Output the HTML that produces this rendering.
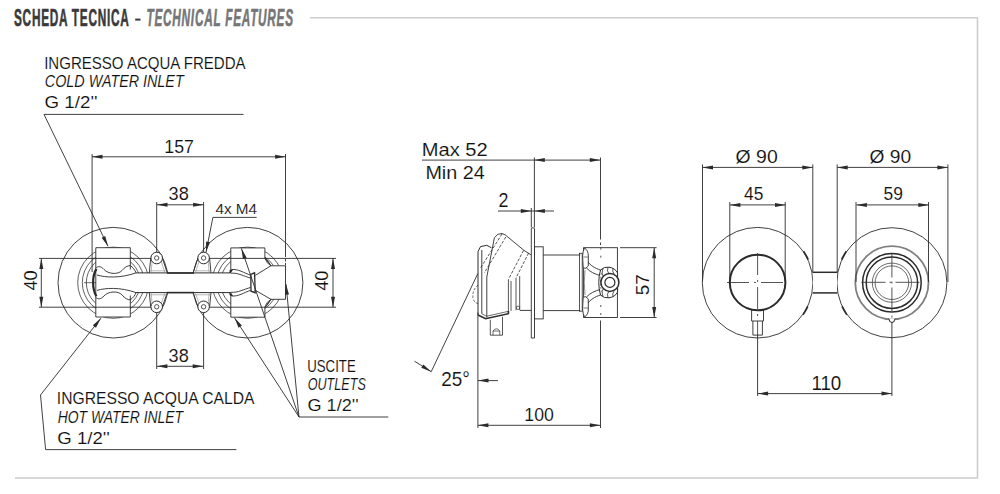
<!DOCTYPE html>
<html><head><meta charset="utf-8"><style>
html,body{margin:0;padding:0;background:#fff;}
svg{display:block;font-family:"Liberation Sans",sans-serif;}
</style></head><body>
<svg width="1000" height="494" viewBox="0 0 1000 494">
<rect width="1000" height="494" fill="#fff"/>
<path d="M310,17.8 H977.5 V478 H15" fill="none" stroke="#cdcdcd" stroke-width="1.6"/>
<circle cx="113.3" cy="282.7" r="55.3" fill="none" stroke="#2b2b2b" stroke-width="0.9" />
<circle cx="247.6" cy="282.7" r="55.3" fill="none" stroke="#2b2b2b" stroke-width="0.9" />
<circle cx="113.3" cy="282.7" r="35.6" fill="none" stroke="#2b2b2b" stroke-width="0.75" />
<circle cx="247.6" cy="282.7" r="35.6" fill="none" stroke="#2b2b2b" stroke-width="0.75" />
<circle cx="113.3" cy="282.7" r="31.0" fill="none" stroke="#2b2b2b" stroke-width="0.75" />
<circle cx="247.6" cy="282.7" r="31.0" fill="none" stroke="#2b2b2b" stroke-width="0.75" />
<circle cx="113.3" cy="282.7" r="27.0" fill="none" stroke="#2b2b2b" stroke-width="0.75" />
<circle cx="247.6" cy="282.7" r="27.0" fill="none" stroke="#2b2b2b" stroke-width="0.75" />
<path d="M130.3,269.5 V247.7 H95.8 V317.0 H130.3 V295.5" fill="#fff" stroke="#2b2b2b" stroke-width="0.9" />
<path d="M230.8,271 V247.9 H264.9 V258.2 Q268,260 270.9,265.8 H285.5 V299.3 H270.9 Q268,305 264.9,307.2 V317.2 H230.8 V294.5" fill="#fff" stroke="#2b2b2b" stroke-width="0.9" />
<line x1="39" y1="258.4" x2="151" y2="258.4" stroke="#2b2b2b" stroke-width="0.9" />
<line x1="209" y1="258.4" x2="336" y2="258.4" stroke="#2b2b2b" stroke-width="0.9" />
<line x1="39" y1="307.2" x2="151" y2="307.2" stroke="#2b2b2b" stroke-width="0.9" />
<line x1="209" y1="307.2" x2="336" y2="307.2" stroke="#2b2b2b" stroke-width="0.9" />
<rect x="130.6" y="273.0" width="100.0" height="19.600000000000023" fill="#fff" stroke="#2b2b2b" stroke-width="0" />
<line x1="136" y1="272.9" x2="230.8" y2="272.9" stroke="#2b2b2b" stroke-width="1.0" />
<line x1="136" y1="292.6" x2="230.8" y2="292.6" stroke="#2b2b2b" stroke-width="1.0" />
<line x1="167" y1="273.0" x2="194" y2="273.0" stroke="#2b2b2b" stroke-width="1.6" />
<line x1="167" y1="292.6" x2="194" y2="292.6" stroke="#2b2b2b" stroke-width="1.6" />
<path d="M95.8,268 C98,266 101,266 104,269.5 C108,274 118,275 122,270.5 C125,267 127.5,265.5 130.3,265.6 C133,267.5 135,270 136,272.9" fill="none" stroke="#2b2b2b" stroke-width="0.9" />
<path d="M95.8,297.4 C98,299.4 101,299.4 104,295.9 C108,291.4 118,290.4 122,294.9 C125,298.4 127.5,299.9 130.3,299.8 C133,297.9 135,295.4 136,292.6" fill="none" stroke="#2b2b2b" stroke-width="0.9" />
<path d="M97,275 C105,277.5 120,278.5 136,272.9" fill="none" stroke="#2b2b2b" stroke-width="0.9" />
<path d="M97,290.4 C105,287.9 120,286.9 136,292.6" fill="none" stroke="#2b2b2b" stroke-width="0.9" />
<path d="M96.4,268.9 C92,276 92,289 96.4,296.3" fill="none" stroke="#2b2b2b" stroke-width="2.2" />
<line x1="84" y1="282.7" x2="96" y2="282.7" stroke="#2b2b2b" stroke-width="0.7" />
<path d="M229.5,272.9 L231.5,269.6 C238,268.6 244,273 250.6,275.2" fill="none" stroke="#2b2b2b" stroke-width="0.9" />
<path d="M231,273.2 C238,272.6 244,276.4 250.6,278" fill="none" stroke="#2b2b2b" stroke-width="0.9" />
<path d="M229.5,292.6 L231.5,295.9 C238,296.9 244,292.5 250.6,290.3" fill="none" stroke="#2b2b2b" stroke-width="0.9" />
<path d="M231,292.3 C238,292.9 244,289.1 250.6,287.5" fill="none" stroke="#2b2b2b" stroke-width="0.9" />
<path d="M230.5,272.9 L232.5,269.8 L229.8,270.5 Z M230.5,292.6 L232.5,295.7 L229.8,295 Z" fill="#2b2b2b" stroke="#2b2b2b" stroke-width="0.8" />
<path d="M250.8,274.3 L254.6,272.8 L255.2,292.7 L251,291.2 Z" fill="none" stroke="#2b2b2b" stroke-width="1.3" />
<polyline points="264.9,258.2 270.9,265.8 255.4,275.3" fill="none" stroke="#2b2b2b" stroke-width="0.9" />
<polyline points="264.9,307.2 270.9,299.3 255.4,290.3" fill="none" stroke="#2b2b2b" stroke-width="0.9" />
<path d="M264.9,258.2 Q266,263 270.9,265.8 M264.9,307.2 Q266,302 270.9,299.3" fill="none" stroke="#2b2b2b" stroke-width="0.7" />
<path d="M150.7,258.0 L149.29999999999998,273.0 M162.29999999999998,258.0 L167.29999999999998,273.0" fill="none" stroke="#2b2b2b" stroke-width="0.9" />
<path d="M152.1,261.0 L151.1,273.0 M161.1,261.0 L165.1,273.0" fill="none" stroke="#888" stroke-width="0.6" />
<line x1="149.5" y1="270.8" x2="166.89999999999998" y2="270.8" stroke="#888" stroke-width="0.6" />
<circle cx="156.7" cy="258.0" r="5.8" fill="#fff" stroke="#2b2b2b" stroke-width="1.0" />
<circle cx="156.7" cy="258.0" r="2.2" fill="none" stroke="#2b2b2b" stroke-width="0.8" />
<path d="M150.7,306.8 L149.29999999999998,292.6 M162.29999999999998,306.8 L167.29999999999998,292.6" fill="none" stroke="#2b2b2b" stroke-width="0.9" />
<path d="M152.1,303.8 L151.1,292.6 M161.1,303.8 L165.1,292.6" fill="none" stroke="#888" stroke-width="0.6" />
<line x1="149.5" y1="294.8" x2="166.89999999999998" y2="294.8" stroke="#888" stroke-width="0.6" />
<circle cx="156.7" cy="306.8" r="5.8" fill="#fff" stroke="#2b2b2b" stroke-width="1.0" />
<circle cx="156.7" cy="306.8" r="2.2" fill="none" stroke="#2b2b2b" stroke-width="0.8" />
<path d="M209.6,258.0 L211.0,273.0 M198.0,258.0 L193.0,273.0" fill="none" stroke="#2b2b2b" stroke-width="0.9" />
<path d="M208.2,261.0 L209.2,273.0 M199.2,261.0 L195.2,273.0" fill="none" stroke="#888" stroke-width="0.6" />
<line x1="210.79999999999998" y1="270.8" x2="193.4" y2="270.8" stroke="#888" stroke-width="0.6" />
<circle cx="203.6" cy="258.0" r="5.8" fill="#fff" stroke="#2b2b2b" stroke-width="1.0" />
<circle cx="203.6" cy="258.0" r="2.2" fill="none" stroke="#2b2b2b" stroke-width="0.8" />
<path d="M209.6,306.8 L211.0,292.6 M198.0,306.8 L193.0,292.6" fill="none" stroke="#2b2b2b" stroke-width="0.9" />
<path d="M208.2,303.8 L209.2,292.6 M199.2,303.8 L195.2,292.6" fill="none" stroke="#888" stroke-width="0.6" />
<line x1="210.79999999999998" y1="294.8" x2="193.4" y2="294.8" stroke="#888" stroke-width="0.6" />
<circle cx="203.6" cy="306.8" r="5.8" fill="#fff" stroke="#2b2b2b" stroke-width="1.0" />
<circle cx="203.6" cy="306.8" r="2.2" fill="none" stroke="#2b2b2b" stroke-width="0.8" />
<line x1="92" y1="156.8" x2="285.6" y2="156.8" stroke="#2b2b2b" stroke-width="0.9" />
<polygon points="92.00,156.80 102.50,154.80 102.50,158.80" fill="#2b2b2b"/>
<polygon points="285.60,156.80 275.10,158.80 275.10,154.80" fill="#2b2b2b"/>
<line x1="92.1" y1="154" x2="92.1" y2="272" stroke="#2b2b2b" stroke-width="0.9" />
<line x1="285.5" y1="154" x2="285.5" y2="257" stroke="#2b2b2b" stroke-width="0.9" />
<line x1="285.5" y1="259" x2="285.5" y2="265.8" stroke="#2b2b2b" stroke-width="0.9" stroke-dasharray="2.5,1.5"/>
<line x1="157" y1="204.8" x2="203.6" y2="204.8" stroke="#2b2b2b" stroke-width="0.9" />
<polygon points="157.00,204.80 167.50,202.80 167.50,206.80" fill="#2b2b2b"/>
<polygon points="203.60,204.80 193.10,206.80 193.10,202.80" fill="#2b2b2b"/>
<line x1="156.7" y1="202" x2="156.7" y2="252.2" stroke="#2b2b2b" stroke-width="0.9" />
<line x1="203.6" y1="202" x2="203.6" y2="252.2" stroke="#2b2b2b" stroke-width="0.9" />
<line x1="156.9" y1="366.3" x2="203.2" y2="366.3" stroke="#2b2b2b" stroke-width="0.9" />
<polygon points="156.90,366.30 167.40,364.30 167.40,368.30" fill="#2b2b2b"/>
<polygon points="203.20,366.30 192.70,368.30 192.70,364.30" fill="#2b2b2b"/>
<line x1="156.7" y1="312.6" x2="156.7" y2="369" stroke="#2b2b2b" stroke-width="0.9" />
<line x1="203.6" y1="312.6" x2="203.6" y2="369" stroke="#2b2b2b" stroke-width="0.9" />
<line x1="41.3" y1="258.4" x2="41.3" y2="307.2" stroke="#2b2b2b" stroke-width="0.9" />
<polygon points="41.30,258.40 43.30,268.90 39.30,268.90" fill="#2b2b2b"/>
<polygon points="41.30,307.20 39.30,296.70 43.30,296.70" fill="#2b2b2b"/>
<line x1="333" y1="258.4" x2="333" y2="307.2" stroke="#2b2b2b" stroke-width="0.9" />
<polygon points="333.00,258.40 335.00,268.90 331.00,268.90" fill="#2b2b2b"/>
<polygon points="333.00,307.20 331.00,296.70 335.00,296.70" fill="#2b2b2b"/>
<polyline points="256.6,217.4 212.9,217.4 206,252.2" fill="none" stroke="#2b2b2b" stroke-width="0.9" />
<polygon points="206.00,252.20 206.08,241.51 210.00,242.29" fill="#2b2b2b"/>
<polyline points="243.5,114.4 44,114.4 108,246.3" fill="none" stroke="#2b2b2b" stroke-width="0.9" />
<polygon points="108.00,246.30 101.62,237.73 105.22,235.98" fill="#2b2b2b"/>
<polyline points="236.4,449.6 45.6,449.6 40.5,395 100.9,318.2" fill="none" stroke="#2b2b2b" stroke-width="0.9" />
<polygon points="100.90,318.20 95.98,327.69 92.84,325.22" fill="#2b2b2b"/>
<line x1="299" y1="417" x2="388.3" y2="417" stroke="#2b2b2b" stroke-width="0.9" />
<line x1="299" y1="417" x2="234.5" y2="317.8" stroke="#2b2b2b" stroke-width="0.9" />
<polygon points="234.50,317.80 241.90,325.51 238.55,327.69" fill="#2b2b2b"/>
<line x1="299" y1="417" x2="241.4" y2="248.4" stroke="#2b2b2b" stroke-width="0.9" />
<polygon points="241.40,248.40 246.69,257.69 242.90,258.98" fill="#2b2b2b"/>
<line x1="299" y1="417" x2="286" y2="284.2" stroke="#2b2b2b" stroke-width="0.9" />
<polygon points="286.00,284.20 289.01,294.46 285.03,294.84" fill="#2b2b2b"/>
<line x1="422" y1="160.1" x2="600.3" y2="160.1" stroke="#2b2b2b" stroke-width="0.9" />
<polygon points="534.30,160.10 544.80,158.10 544.80,162.10" fill="#2b2b2b"/>
<polygon points="600.30,160.10 589.80,162.10 589.80,158.10" fill="#2b2b2b"/>
<line x1="534.4" y1="157.5" x2="534.4" y2="227.5" stroke="#2b2b2b" stroke-width="0.9" />
<line x1="600.5" y1="157.5" x2="600.5" y2="239.5" stroke="#2b2b2b" stroke-width="0.9" />
<line x1="600.5" y1="242.5" x2="600.5" y2="245" stroke="#2b2b2b" stroke-width="0.9" />
<line x1="498" y1="211" x2="554" y2="211" stroke="#2b2b2b" stroke-width="0.9" />
<polygon points="531.30,211.00 520.80,213.00 520.80,209.00" fill="#2b2b2b"/>
<polygon points="534.40,211.00 544.90,209.00 544.90,213.00" fill="#2b2b2b"/>
<line x1="531.3" y1="208" x2="531.3" y2="227.5" stroke="#2b2b2b" stroke-width="0.9" />
<path d="M531.3,338 V228.5 Q532.9,226.8 534.5,228.5 V338 Z" fill="#fff" stroke="#2b2b2b" stroke-width="0.9" />
<rect x="534.5" y="246.8" width="8.700000000000045" height="72.09999999999997" fill="#fff" stroke="#2b2b2b" stroke-width="0.9" />
<line x1="543.2" y1="255.0" x2="580.2" y2="255.0" stroke="#2b2b2b" stroke-width="0.9" />
<line x1="543.2" y1="310.6" x2="580.2" y2="310.6" stroke="#2b2b2b" stroke-width="0.9" />
<line x1="520" y1="310.4" x2="531.3" y2="310.4" stroke="#2b2b2b" stroke-width="0.9" />
<rect x="583.6" y="247.7" width="33.799999999999955" height="69.80000000000001" fill="#fff" stroke="#2b2b2b" stroke-width="0.9" />
<rect x="579.6" y="253.3" width="2.6000000000000227" height="57.89999999999998" fill="none" stroke="#2b2b2b" stroke-width="0.8" />
<path d="M584.5,248 Q588.5,250.5 588.3,256 L588.3,266 Q586,269.5 583.2,268 L582.6,256 Q582.8,251 584.5,248 Z" fill="#fff" stroke="#2b2b2b" stroke-width="0.9" />
<path d="M584.5,317 Q588.5,314.5 588.3,309 L588.3,299 Q586,295.5 583.2,297 L582.6,309 Q582.8,314 584.5,317 Z" fill="#fff" stroke="#2b2b2b" stroke-width="0.9" />
<line x1="583.5" y1="257" x2="588" y2="257" stroke="#2b2b2b" stroke-width="0.6" />
<line x1="583.5" y1="308" x2="588" y2="308" stroke="#2b2b2b" stroke-width="0.6" />
<path d="M588,262 C592,267 597,269 602,270.5 M586.5,268 C590,272 595,274 600,275.5" fill="none" stroke="#2b2b2b" stroke-width="0.9" />
<path d="M588,303 C592,298 597,296 602,294.5 M586.5,297 C590,293 595,291 600,289.5" fill="none" stroke="#2b2b2b" stroke-width="0.9" />
<path d="M585,270 Q583.5,282.5 585,295" fill="none" stroke="#666" stroke-width="0.7" />
<path d="M600.5,270 Q604,266.5 609,267.2 Q615,268 617.6,273 L617.6,292 Q615,297 609,297.8 Q604,298.5 600.5,295 Q597,282.5 600.5,270 Z" fill="#fff" stroke="#2b2b2b" stroke-width="1.0" />
<path d="M603,268.5 Q601,274 604,277 M608,267.3 Q606.5,271 609,274 M613,268.5 Q612,271 614,274" fill="none" stroke="#2b2b2b" stroke-width="0.8" />
<path d="M603,296.5 Q601,291 604,288 M608,297.7 Q606.5,294 609,291 M613,296.5 Q612,294 614,291" fill="none" stroke="#2b2b2b" stroke-width="0.8" />
<path d="M601.5,273 Q599.5,282.5 601.5,292" fill="none" stroke="#555" stroke-width="0.7" stroke-dasharray="2,1.5"/>
<circle cx="609.9" cy="282.4" r="9.0" fill="#fff" stroke="#2b2b2b" stroke-width="1.5" />
<circle cx="609.9" cy="282.4" r="5.0" fill="none" stroke="#2b2b2b" stroke-width="1.2" />
<line x1="600.8" y1="247.7" x2="600.8" y2="262" stroke="#2b2b2b" stroke-width="0.8" stroke-dasharray="2,6"/>
<line x1="600.8" y1="305" x2="600.8" y2="317.5" stroke="#2b2b2b" stroke-width="0.8" stroke-dasharray="2,6"/>
<line x1="654.2" y1="247.8" x2="654.2" y2="317.4" stroke="#2b2b2b" stroke-width="0.9" />
<polygon points="654.20,247.80 656.20,258.30 652.20,258.30" fill="#2b2b2b"/>
<polygon points="654.20,317.40 652.20,306.90 656.20,306.90" fill="#2b2b2b"/>
<line x1="620" y1="247.7" x2="656.6" y2="247.7" stroke="#2b2b2b" stroke-width="0.9" />
<line x1="620" y1="317.5" x2="656.6" y2="317.5" stroke="#2b2b2b" stroke-width="0.9" />
<path d="M478,315 V251.6 L480.5,246.6 L486.8,245.3 L491.5,247.8" fill="none" stroke="#2b2b2b" stroke-width="1.0" />
<line x1="481.8" y1="313.7" x2="481.8" y2="250" stroke="#2b2b2b" stroke-width="0.9" />
<path d="M486.8,317.5 V277 L494.4,237.7 Q497.5,233 502,233.5 L505.4,235 L523.5,250 L530.9,254.8" fill="none" stroke="#2b2b2b" stroke-width="0.9" />
<path d="M502,234 L480.5,268 M505.8,237 L484.3,273" fill="none" stroke="#2b2b2b" stroke-width="0.8" stroke-dasharray="3,1.6"/>
<path d="M508.4,279.5 V313.7 M511,281 V311 M516,278 V310.3 M519.7,276 V310.3" fill="none" stroke="#2b2b2b" stroke-width="0.8" />
<path d="M523.5,250.4 L508.4,279.5 M528.6,253 L516,278" fill="none" stroke="#2b2b2b" stroke-width="0.8" stroke-dasharray="3,1.6"/>
<path d="M478,315 L485.6,318.7 L508.4,313.7 V311" fill="none" stroke="#2b2b2b" stroke-width="1.6" />
<path d="M481.8,313.7 L486.5,316.3 L508.4,311.3" fill="none" stroke="#2b2b2b" stroke-width="0.7" />
<circle cx="518" cy="307.8" r="1.7" fill="none" stroke="#2b2b2b" stroke-width="0.7" />
<path d="M490.3,319.8 V335.2 H502.5 V316.8" fill="none" stroke="#2b2b2b" stroke-width="0.8" />
<path d="M493,335 V331 Q496.4,326.5 499.8,331 V335 M493,331 H499.8" fill="none" stroke="#2b2b2b" stroke-width="0.7" />
<path d="M478,285 Q472,290 473,298 Q474,303 478,303.4" fill="none" stroke="#2b2b2b" stroke-width="0.7" stroke-dasharray="2.5,1.5"/>
<line x1="477.8" y1="273.6" x2="431.2" y2="371.7" stroke="#2b2b2b" stroke-width="0.9" />
<line x1="414.5" y1="361.2" x2="431.2" y2="371.7" stroke="#2b2b2b" stroke-width="0.9" />
<polygon points="431.20,371.70 421.25,367.80 423.38,364.42" fill="#2b2b2b"/>
<line x1="477.9" y1="312.5" x2="477.9" y2="428" stroke="#2b2b2b" stroke-width="0.9" />
<line x1="478" y1="380.6" x2="498" y2="380.6" stroke="#2b2b2b" stroke-width="0.9" />
<polygon points="478.00,380.60 488.50,378.60 488.50,382.60" fill="#2b2b2b"/>
<line x1="477.9" y1="425.3" x2="600.4" y2="425.3" stroke="#2b2b2b" stroke-width="0.9" />
<polygon points="477.90,425.30 488.40,423.30 488.40,427.30" fill="#2b2b2b"/>
<polygon points="600.40,425.30 589.90,427.30 589.90,423.30" fill="#2b2b2b"/>
<line x1="600.5" y1="320.5" x2="600.5" y2="428" stroke="#2b2b2b" stroke-width="0.9" />
<circle cx="757.6" cy="282.7" r="55.3" fill="none" stroke="#2b2b2b" stroke-width="0.9" />
<circle cx="891.9" cy="282.7" r="55.0" fill="none" stroke="#2b2b2b" stroke-width="0.9" />
<path d="M803.51,251.23 A55.6,55.6 0 0 1 808.26,259.68" fill="none" stroke="#2b2b2b" stroke-width="1.6" />
<path d="M807.87,306.36 A55.6,55.6 0 0 1 802.98,314.73" fill="none" stroke="#2b2b2b" stroke-width="1.6" />
<path d="M841.59,259.65 A55.3,55.3 0 0 1 846.34,251.26" fill="none" stroke="#2b2b2b" stroke-width="1.6" />
<path d="M846.87,314.70 A55.3,55.3 0 0 1 841.98,306.39" fill="none" stroke="#2b2b2b" stroke-width="1.6" />
<rect x="812.9" y="272.3" width="24.100000000000023" height="20.599999999999966" fill="#fff" stroke="#2b2b2b" stroke-width="0" />
<line x1="812.6" y1="272.3" x2="837.3" y2="272.3" stroke="#2b2b2b" stroke-width="1.5" />
<line x1="812.6" y1="292.9" x2="837.3" y2="292.9" stroke="#2b2b2b" stroke-width="1.5" />
<circle cx="757.6" cy="282.5" r="27.8" fill="none" stroke="#2b2b2b" stroke-width="2.0" />
<path d="M751.6,309.6 V321 H763.5 V309.6" fill="none" stroke="#2b2b2b" stroke-width="0.9" />
<path d="M752.9,321 V335.1 H762.4 V321" fill="none" stroke="#2b2b2b" stroke-width="0.9" />
<line x1="727" y1="282.5" x2="788" y2="282.5" stroke="#2b2b2b" stroke-width="0.8" stroke-dasharray="22,5,2,5"/>
<line x1="757.6" y1="253" x2="757.6" y2="335" stroke="#2b2b2b" stroke-width="0.8" stroke-dasharray="22,5,2,5"/>
<line x1="861.5" y1="282.3" x2="922.2" y2="282.3" stroke="#2b2b2b" stroke-width="0.8" stroke-dasharray="24,4,2,4"/>
<line x1="891.9" y1="253.5" x2="891.9" y2="318" stroke="#2b2b2b" stroke-width="0.8" stroke-dasharray="24,4,2,4"/>
<circle cx="891.9" cy="282.7" r="36.6" fill="none" stroke="#808080" stroke-width="1.8" />
<circle cx="891.9" cy="282.7" r="29.3" fill="none" stroke="#2b2b2b" stroke-width="1.5" />
<circle cx="891.9" cy="282.7" r="25.7" fill="none" stroke="#2b2b2b" stroke-width="1.5" />
<circle cx="891.9" cy="282.7" r="19.6" fill="none" stroke="#444" stroke-width="0.8" />
<circle cx="891.9" cy="282.7" r="16.8" fill="none" stroke="#444" stroke-width="0.8" />
<path d="M888.6,318.6 Q889.6,319.5 889.6,321.5 Q891.9,323.6 894.2,321.5 Q894.2,319.5 895.2,318.6" fill="#fff" stroke="#2b2b2b" stroke-width="1.0" />
<line x1="702.5" y1="167.4" x2="812.8" y2="167.4" stroke="#2b2b2b" stroke-width="0.9" />
<polygon points="702.50,167.40 713.00,165.40 713.00,169.40" fill="#2b2b2b"/>
<polygon points="812.80,167.40 802.30,169.40 802.30,165.40" fill="#2b2b2b"/>
<line x1="837.2" y1="167.4" x2="947.9" y2="167.4" stroke="#2b2b2b" stroke-width="0.9" />
<polygon points="837.20,167.40 847.70,165.40 847.70,169.40" fill="#2b2b2b"/>
<polygon points="947.90,167.40 937.40,169.40 937.40,165.40" fill="#2b2b2b"/>
<line x1="702.5" y1="164.4" x2="702.5" y2="282" stroke="#2b2b2b" stroke-width="0.9" />
<line x1="812.8" y1="164.4" x2="812.8" y2="272.3" stroke="#2b2b2b" stroke-width="0.9" />
<line x1="837.2" y1="164.4" x2="837.2" y2="272.3" stroke="#2b2b2b" stroke-width="0.9" />
<line x1="947.9" y1="164.4" x2="947.9" y2="282" stroke="#2b2b2b" stroke-width="0.9" />
<line x1="729.9" y1="204.9" x2="785.5" y2="204.9" stroke="#2b2b2b" stroke-width="0.9" />
<polygon points="729.90,204.90 740.40,202.90 740.40,206.90" fill="#2b2b2b"/>
<polygon points="785.50,204.90 775.00,206.90 775.00,202.90" fill="#2b2b2b"/>
<line x1="856.4" y1="204.9" x2="928.8" y2="204.9" stroke="#2b2b2b" stroke-width="0.9" />
<polygon points="856.40,204.90 866.90,202.90 866.90,206.90" fill="#2b2b2b"/>
<polygon points="928.80,204.90 918.30,206.90 918.30,202.90" fill="#2b2b2b"/>
<line x1="729.8" y1="202" x2="729.8" y2="282" stroke="#2b2b2b" stroke-width="0.9" />
<line x1="785.2" y1="202" x2="785.2" y2="282" stroke="#2b2b2b" stroke-width="0.9" />
<line x1="856.0" y1="202" x2="856.0" y2="282" stroke="#2b2b2b" stroke-width="0.9" />
<line x1="928.5" y1="202" x2="928.5" y2="282" stroke="#2b2b2b" stroke-width="0.9" />
<line x1="757.6" y1="393.6" x2="892.0" y2="393.6" stroke="#2b2b2b" stroke-width="0.9" />
<polygon points="757.60,393.60 768.10,391.60 768.10,395.60" fill="#2b2b2b"/>
<polygon points="892.00,393.60 881.50,395.60 881.50,391.60" fill="#2b2b2b"/>
<line x1="757.6" y1="335" x2="757.6" y2="396" stroke="#2b2b2b" stroke-width="0.9" />
<line x1="891.9" y1="322" x2="891.9" y2="396" stroke="#2b2b2b" stroke-width="0.9" />
<text x="44.16" y="68.50" font-size="15.60" textLength="201.44" lengthAdjust="spacingAndGlyphs" fill="#111111" stroke="#fff" stroke-width="0.1">INGRESSO ACQUA FREDDA</text>
<text x="44.87" y="87.00" font-size="15.60" font-style="italic" textLength="138.78" lengthAdjust="spacingAndGlyphs" fill="#111111" stroke="#fff" stroke-width="0.1">COLD WATER INLET</text>
<text x="44.62" y="108.32" font-size="15.60" textLength="52.93" lengthAdjust="spacingAndGlyphs" fill="#111111" stroke="#fff" stroke-width="0.1">G 1/2''</text>
<text x="164.33" y="153.00" font-size="18.60" textLength="29.59" lengthAdjust="spacingAndGlyphs" fill="#111111" stroke="#fff" stroke-width="0.1">157</text>
<text x="168.58" y="200.46" font-size="18.35" textLength="20.18" lengthAdjust="spacingAndGlyphs" fill="#111111" stroke="#fff" stroke-width="0.1">38</text>
<text x="215.48" y="214.08" font-size="14.81" textLength="41.60" lengthAdjust="spacingAndGlyphs" fill="#111111" stroke="#fff" stroke-width="0.1">4x M4</text>
<g transform="translate(36.75,290.58) rotate(-90)"><text x="0" y="0" font-size="18.71" textLength="20.30" lengthAdjust="spacingAndGlyphs" fill="#111111" stroke="#fff" stroke-width="0.1">40</text></g>
<g transform="translate(328.00,290.75) rotate(-90)"><text x="0" y="0" font-size="19.01" textLength="20.22" lengthAdjust="spacingAndGlyphs" fill="#111111" stroke="#fff" stroke-width="0.1">40</text></g>
<text x="168.58" y="361.67" font-size="18.54" textLength="20.14" lengthAdjust="spacingAndGlyphs" fill="#111111" stroke="#fff" stroke-width="0.1">38</text>
<text x="307.24" y="371.50" font-size="15.60" textLength="48.52" lengthAdjust="spacingAndGlyphs" fill="#111111" stroke="#fff" stroke-width="0.1">USCITE</text>
<text x="307.74" y="390.42" font-size="15.60" font-style="italic" textLength="58.06" lengthAdjust="spacingAndGlyphs" fill="#111111" stroke="#fff" stroke-width="0.1">OUTLETS</text>
<text x="307.49" y="410.83" font-size="15.60" textLength="51.18" lengthAdjust="spacingAndGlyphs" fill="#111111" stroke="#fff" stroke-width="0.1">G 1/2''</text>
<text x="56.83" y="404.21" font-size="15.60" textLength="197.60" lengthAdjust="spacingAndGlyphs" fill="#111111" stroke="#fff" stroke-width="0.1">INGRESSO ACQUA CALDA</text>
<text x="57.78" y="422.83" font-size="15.60" font-style="italic" textLength="125.20" lengthAdjust="spacingAndGlyphs" fill="#111111" stroke="#fff" stroke-width="0.1">HOT WATER INLET</text>
<text x="57.33" y="443.83" font-size="15.60" textLength="52.55" lengthAdjust="spacingAndGlyphs" fill="#111111" stroke="#fff" stroke-width="0.1">G 1/2''</text>
<text x="421.75" y="155.75" font-size="18.67" textLength="65.92" lengthAdjust="spacingAndGlyphs" fill="#111111" stroke="#fff" stroke-width="0.1">Max 52</text>
<text x="425.42" y="178.63" font-size="17.64" textLength="59.34" lengthAdjust="spacingAndGlyphs" fill="#111111" stroke="#fff" stroke-width="0.1">Min 24</text>
<text x="498.62" y="207.38" font-size="19.85" textLength="9.97" lengthAdjust="spacingAndGlyphs" fill="#111111" stroke="#fff" stroke-width="0.1">2</text>
<text x="441.29" y="386.12" font-size="19.53" textLength="28.59" lengthAdjust="spacingAndGlyphs" fill="#111111" stroke="#fff" stroke-width="0.1">25°</text>
<text x="524.34" y="421.25" font-size="19.04" textLength="29.46" lengthAdjust="spacingAndGlyphs" fill="#111111" stroke="#fff" stroke-width="0.1">100</text>
<g transform="translate(649.13,295.33) rotate(-90)"><text x="0" y="0" font-size="18.97" textLength="21.01" lengthAdjust="spacingAndGlyphs" fill="#111111" stroke="#fff" stroke-width="0.1">57</text></g>
<text x="735.62" y="162.87" font-size="19.05" textLength="42.10" lengthAdjust="spacingAndGlyphs" fill="#111111" stroke="#fff" stroke-width="0.1">Ø 90</text>
<text x="744.03" y="200.21" font-size="18.23" textLength="19.27" lengthAdjust="spacingAndGlyphs" fill="#111111" stroke="#fff" stroke-width="0.1">45</text>
<text x="869.58" y="162.87" font-size="19.05" textLength="41.60" lengthAdjust="spacingAndGlyphs" fill="#111111" stroke="#fff" stroke-width="0.1">Ø 90</text>
<text x="883.54" y="200.21" font-size="18.20" textLength="19.39" lengthAdjust="spacingAndGlyphs" fill="#111111" stroke="#fff" stroke-width="0.1">59</text>
<text x="811.38" y="389.88" font-size="19.55" textLength="29.92" lengthAdjust="spacingAndGlyphs" fill="#111111" stroke="#fff" stroke-width="0.1">110</text>
<g transform="translate(14,25.5) scale(0.5,1)"><text x="0" y="0" font-size="23.6" font-weight="bold" letter-spacing="1.5" fill="#3a3a3a" stroke="#3a3a3a" stroke-width="0.6">SCHEDA TECNICA</text></g>
<rect x="135.2" y="18.6" width="5.3" height="2.0" fill="#3a3a3a"/>
<g transform="translate(146.5,25.5) scale(0.5,1)"><text x="0" y="0" font-size="23.6" font-weight="bold" font-style="italic" letter-spacing="1.5" fill="#767676" stroke="#767676" stroke-width="0.6">TECHNICAL FEATURES</text></g>
</svg></body></html>
